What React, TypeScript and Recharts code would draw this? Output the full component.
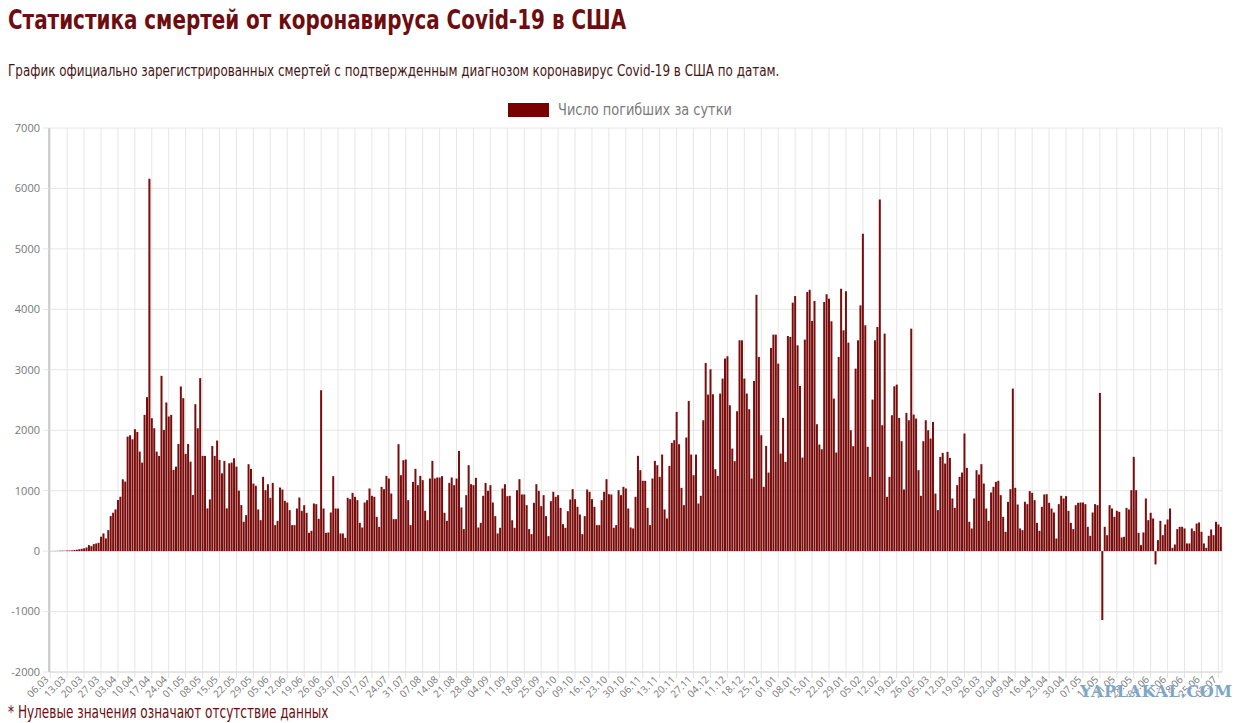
import { Bar, BarChart, CartesianGrid, XAxis, YAxis } from "recharts";

// daily deaths, split into periods (first day = 06.03.2020)
const firstWave: number[] = [
  2, 3, 3, 4, 6, 8, 7, 10, 10, 12,
  18, 23, 31, 39, 46, 60,
  100, 83, 116, 127, 138, 238, 293, 210, 348, 580,
  635, 690, 845, 900, 1188, 1150, 1895, 1917, 1850, 2017,
  1972, 1646, 1464, 2254, 2547, 6160, 2199, 2033, 1646, 1575,
  2900, 2005, 2459, 2227, 2254, 1343, 1398, 1773, 2724, 2530,
  1608, 1773, 1480, 928, 2431, 2033, 2862, 1575, 1575, 707,
  856, 1740, 1575, 1829, 1508, 1287, 1492, 707, 1453, 1464,
  1536, 1398, 1000, 762, 486,
];

const summer2020: number[] = [
  595, 1438, 1361, 1118, 1080, 689, 512, 1229, 1008, 1107,
  882, 1129, 430, 501, 1052, 1019, 832, 804, 678, 430,
  430, 705, 887, 667, 760, 634, 303, 336, 788, 777,
  534, 2661, 705, 303, 309, 639, 1240, 705, 705, 292,
  292, 220, 882, 860, 964, 898, 843, 468, 391, 804,
  843, 1036, 915, 898, 567, 402, 1063, 1025, 1245, 1201,
  953, 529, 529, 1769, 1256, 1504, 1515, 843, 430, 1146,
  1361, 1091, 1245, 1174, 667, 512, 1201, 1493, 1201, 1218,
];

const autumn2020: number[] = [
  1218, 1240, 634, 501, 1129, 1218, 1091, 1201, 1658, 722,
  364, 926, 1421, 1107, 1091, 1212, 391, 468, 915, 1129,
  997, 1091, 804, 579, 292, 386, 1036, 1107, 909, 915,
  512, 386, 1008, 1190, 937, 937, 760, 364, 281, 799,
  1107, 997, 744, 926, 579, 248, 826, 981, 898, 926,
  716, 446, 386, 661, 854, 1025, 860, 733, 606, 281,
  579, 1019, 981, 860, 733, 430, 430, 843, 981, 1190,
  942, 937, 386, 430, 1008, 926, 1063, 1036, 705, 391,
  375,
];

const winterRise: number[] = [
  898, 1576, 1339, 1163, 1163, 716, 430, 1201, 1493, 1421,
  1229, 1598, 689, 540, 1410, 1791, 1835, 2303, 1769, 1047,
  760, 1879, 2485, 1598, 1256, 1598, 788, 915, 2165, 3113,
  2590, 3008, 2595, 1355, 1245, 2606, 2854, 3185, 3223, 2413,
  1697, 1488, 2314, 3488, 3488, 2854, 2606, 2347, 1201, 2815,
  4242, 3212, 1917, 1063, 1741, 1300, 3361, 3581, 3581, 3102,
  1614, 2204, 1477, 3559, 3543, 4110, 4220, 3405, 2733, 1548,
  3499, 4286, 4325, 3807, 4138, 2099, 1763, 1686, 4121, 4248,
  4176,
];

const winterPeak: number[] = [
  3802, 2523, 1631, 3212, 4342, 3653, 4298, 3449, 2000, 1736,
  3019, 3488, 4066, 5251, 3736, 1725, 1229, 2507, 3488, 3708,
  5818, 2083, 3598, 898, 1229, 2248, 2727, 2755, 2204, 1818,
  1019, 2287, 2165, 3680, 2259, 2193, 1339, 915, 1818, 2165,
  2000, 1862, 2138, 953, 678, 1559, 1625, 1449, 1642, 1543,
  871, 716, 1091, 1229, 1300, 1945, 1377, 485, 375, 871,
  1339, 1267, 1438, 1118, 705, 501, 970, 1063, 1146, 1163,
  926, 567, 320, 815, 1025, 2689, 1047, 771, 375, 347,
  815,
];

const spring2021: number[] = [
  777, 992, 964, 843, 468, 336, 733, 937, 942, 799,
  705, 639, 209, 777, 915, 871, 909, 667, 468, 364,
  760, 799, 804, 804, 777, 402, 253, 639, 777, 760,
  2617, -1140, 402, 264, 760, 705, 567, 667, 650, 226,
  237, 716, 689, 1008, 1559, 1008, 303, 99, 309, 871,
  512, 634, 540, -220, 182, 501, 264, 441, 523, 705,
  55, 110, 364, 402, 402, 375, 127, 127, 375, 331,
  457, 474, 320, 127, 55, 253, 358, 264, 485, 441, 400,
];

const deaths = [
  ...firstWave,
  ...summer2020,
  ...autumn2020,
  ...winterRise,
  ...winterPeak,
  ...spring2021,
];

const yTicks = [-2000, -1000, 0, 1000, 2000, 3000, 4000, 5000, 6000, 7000];

const pad = (n: number) => String(n).padStart(2, "0");
const data = deaths.map((value, i) => {
  const d = new Date(2020, 2, 6 + i);
  return { date: `${pad(d.getDate())}.${pad(d.getMonth() + 1)}`, value };
});

// no narrow web font offline, so squeeze a condensed one
const narrow = "'DejaVu Sans Condensed', 'DejaVu Sans', sans-serif";
const dark = "#6d0d10";

const Squeezed = ({ scale, style, children }: any) => (
  <div
    style={{
      position: "absolute",
      whiteSpace: "nowrap",
      fontFamily: narrow,
      transform: `scaleX(${scale})`,
      transformOrigin: "0 0",
      ...style,
    }}
  >
    {children}
  </div>
);

const DateTick = ({ x, y, payload }: any) => (
  <g transform={`translate(${x - 3},${y})`}>
    <text
      x={0}
      y={0}
      dy={3}
      textAnchor="end"
      transform="rotate(-45)"
      fontSize={10}
      fill="#777"
      fontFamily="'Open Sans', sans-serif"
    >
      {payload.value}
    </text>
  </g>
);

export default function App() {
  return (
    <div
      style={{
        position: "absolute",
        left: 0,
        top: 0,
        width: 1243,
        height: 723,
        overflow: "hidden",
        background: "#fff",
      }}
    >
      <Squeezed
        scale={0.82}
        style={{ left: 8, top: 4, fontWeight: "bold", fontSize: 27, color: dark }}
      >
        Статистика смертей от коронавируса Covid-19 в США
      </Squeezed>
      <Squeezed scale={0.83} style={{ left: 8, top: 61, fontSize: 16, color: "#4a1414" }}>
        График официально зарегистрированных смертей с подтвержденным диагнозом коронавирус Covid-19 в США по датам.
      </Squeezed>

      {/* legend */}
      <div style={{ position: "absolute", left: 508, top: 103, width: 41, height: 14, background: "#7a0000" }} />
      <Squeezed scale={0.9} style={{ left: 558, top: 100, fontSize: 16, color: "#7a7a7a" }}>
        Число погибших за сутки
      </Squeezed>

      <div style={{ position: "absolute", left: 0, top: 90 }}>
        <BarChart
          width={1243}
          height={633}
          data={data}
          margin={{ top: 38, right: 21, bottom: 0, left: 0 }}
          barCategoryGap="10%"
        >
          <CartesianGrid stroke="#e6e6e6" />
          <XAxis
            dataKey="date"
            interval={6}
            height={51}
            tick={<DateTick />}
            tickSize={6}
            tickMargin={0}
            tickLine={{ stroke: "#e0e0e0" }}
            axisLine={{ stroke: "#d8d8d8" }}
          />
          <YAxis
            width={49}
            domain={[-2000, 7000]}
            ticks={yTicks}
            interval={0}
            tickSize={6}
            tickMargin={3}
            tickLine={{ stroke: "#e6e6e6" }}
            axisLine={{ stroke: "#aaa" }}
            tick={{ fontSize: 11, fill: "#777", fontFamily: "'Open Sans', sans-serif" }}
          />
          <Bar dataKey="value" fill="#7a0c0c" isAnimationActive={false} />
        </BarChart>
      </div>

      <div
        style={{
          position: "absolute",
          left: 1080,
          top: 682,
          fontFamily: "'DejaVu Serif', serif",
          fontWeight: "bold",
          fontSize: 16,
          color: "#7ea6c6",
          letterSpacing: 0.6,
          whiteSpace: "nowrap",
          textShadow: "0 0 1px #fff",
        }}
      >
        YAPLAKAL.COM
      </div>

      <Squeezed
        scale={0.79}
        style={{ left: 8, top: 703, fontSize: 17, lineHeight: "19px", color: dark }}
      >
        * Нулевые значения означают отсутствие данных
      </Squeezed>
    </div>
  );
}
